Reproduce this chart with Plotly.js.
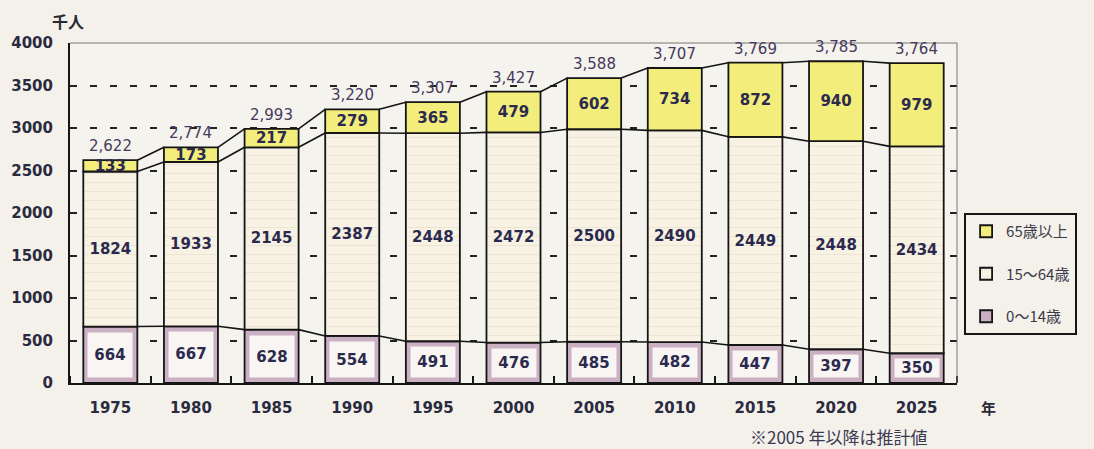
<!DOCTYPE html>
<html>
<head>
<meta charset="utf-8">
<script src="https://cdn.plot.ly/plotly-3.0.1.min.js"></script>
<style>html,body{margin:0;padding:0;background:#f3f1ea;}#chart{width:1094px;height:449px;}</style>
</head>
<body>
<div id="chart"></div>
<script>
// ---- data (thousand persons) ----
const years = [1975, 1980, 1985, 1990, 1995, 2000, 2005, 2010, 2015, 2020, 2025];
const age0to14 = [664, 667, 628, 554, 491, 476, 485, 482, 447, 397, 350];
const age15to64 = [1824, 1933, 2145, 2387, 2448, 2472, 2500, 2490, 2449, 2448, 2434];
const age65plus = [133, 173, 217, 279, 365, 479, 602, 734, 872, 940, 979];
const totalLabels = ['2,622', '2,774', '2,993', '3,220', '3,307', '3,427', '3,588', '3,707', '3,769', '3,785', '3,764'];
const seriesNames = ['65歳以上', '15～64歳', '0～14歳'];

// ---- derived stacking ----
const lvl1 = age0to14.slice();
const lvl2 = age0to14.map((v, i) => v + age15to64[i]);
const lvl3 = lvl2.map((v, i) => v + age65plus[i]);

const BW = 3.35; // bar width in x units (5-year spacing)
const numFont = {family: 'DejaVu Sans', size: 15, color: '#2b2a4e', weight: 'bold'};

const traces = [];
traces.push({
  type: 'bar', name: seriesNames[2], x: years, y: age0to14, base: years.map(() => 0),
  width: BW, legendgroup: 'c', legendrank: 3,
  marker: {color: '#cbb0c4', line: {color: '#151515', width: 1.8}},
  hoverinfo: 'skip'
});
traces.push({
  type: 'bar', name: seriesNames[1], x: years, y: age15to64, base: lvl1,
  width: BW, legendgroup: 'b', legendrank: 2,
  marker: {color: '#f7f2e4', line: {color: '#151515', width: 1.8},
    pattern: {shape: '-', fgcolor: '#ebe3d2', bgcolor: '#f7f2e4', size: 9, solidity: 0.1}},
  text: age15to64.map(String), textposition: 'inside', insidetextanchor: 'middle',
  constraintext: 'none', textfont: numFont, hoverinfo: 'skip'
});
traces.push({
  type: 'bar', name: seriesNames[0], x: years, y: age65plus, base: lvl2,
  width: BW, legendgroup: 'a', legendrank: 1,
  marker: {color: '#f3ee7b', line: {color: '#151515', width: 1.8}},
  text: age65plus.map(String), textposition: 'inside', insidetextanchor: 'middle',
  constraintext: 'none', textfont: numFont, hoverinfo: 'skip'
});

// series connector lines between adjacent bars
[lvl1, lvl2, lvl3].forEach(lv => {
  const xs = [], ys = [];
  for (let i = 0; i < years.length - 1; i++) {
    xs.push(years[i] + BW / 2, years[i + 1] - BW / 2, null);
    ys.push(lv[i], lv[i + 1], null);
  }
  traces.push({type: 'scatter', mode: 'lines', x: xs, y: ys, showlegend: false,
    line: {color: '#151515', width: 1.6}, hoverinfo: 'skip'});
});

// 0-14 labels in light boxes
const pxPerUnit = 340 / 4000;
const annotations = years.map((yr, i) => ({
  x: yr, y: age0to14[i] / 2, xref: 'x', yref: 'y', showarrow: false,
  text: String(age0to14[i]), font: numFont,
  bgcolor: '#f8f5f3', width: 42,
  height: Math.max(age0to14[i] * pxPerUnit - 14, 16)
}));
// total labels above bars
years.forEach((yr, i) => annotations.push({
  x: yr, y: lvl3[i], xref: 'x', yref: 'y', showarrow: false,
  yanchor: 'bottom', yshift: 3, text: totalLabels[i],
  font: {family: 'DejaVu Sans', size: 15, color: '#463a5c'}
}));
annotations.push({xref: 'paper', yref: 'paper', x: -0.002, y: 1.065, xanchor: 'center', yanchor: 'middle',
  text: '<b>千人</b>', showarrow: false, font: {family: 'Noto Sans CJK JP', size: 16, color: '#2a2a35'}});
annotations.push({xref: 'paper', yref: 'paper', x: 1.035, y: -0.0735, xanchor: 'center', yanchor: 'middle',
  text: '<b>年</b>', showarrow: false, font: {family: 'Noto Sans CJK JP', size: 15, color: '#2a2a35'}});
annotations.push({xref: 'paper', yref: 'paper', x: 0.764, y: -0.158, xanchor: 'left', yanchor: 'middle',
  text: '※2005 年以降は推計値', showarrow: false, font: {family: 'Noto Sans CJK JP', size: 17, color: '#3a3a52'}});

const layout = {
  width: 1094, height: 449,
  margin: {l: 70, r: 137, t: 43, b: 66},
  paper_bgcolor: '#f3f1ea', plot_bgcolor: '#f5f3ee',
  barmode: 'overlay', bargap: 0,
  showlegend: true,
  legend: {x: 1.008, xanchor: 'left', y: 0.5, yanchor: 'top',
    bordercolor: '#151515', borderwidth: 2, bgcolor: '#f3f1ea',
    traceorder: 'grouped', tracegroupgap: 20,
    font: {family: 'Noto Sans CJK JP', size: 15, color: '#3a3a48'}},
  xaxis: {range: [1972.5, 2027.5], tickmode: 'linear', tick0: 1975, dtick: 5, tickformat: 'd',
    showgrid: false, zeroline: false, showline: true, linecolor: '#151515', linewidth: 2,
    ticks: '', ticklabelstandoff: 10,
    tickfont: {family: 'DejaVu Sans', size: 15, color: '#2a2a40', weight: 'bold'},
    minor: {tickmode: 'linear', tick0: 1977.5, dtick: 5, ticks: 'inside', ticklen: 7, tickwidth: 2, tickcolor: '#151515', showgrid: false}},
  yaxis: {range: [0, 4000], tickmode: 'linear', tick0: 0, dtick: 500,
    showgrid: true, gridcolor: '#222', gridwidth: 2, griddash: '7px,13px',
    zeroline: false, showline: true, linecolor: '#151515', linewidth: 2,
    ticks: '', ticklabelstandoff: 12,
    tickfont: {family: 'DejaVu Sans', size: 15, color: '#2a2a40', weight: 'bold'}},
  shapes: [
    {type: 'line', xref: 'paper', yref: 'paper', x0: 0, x1: 1, y0: 1, y1: 1, line: {color: '#f5f3ee', width: 3}},
    {type: 'line', xref: 'paper', yref: 'paper', x0: 0, x1: 1, y0: 1, y1: 1, line: {color: '#777', width: 1}},
    {type: 'line', xref: 'paper', yref: 'paper', x0: 1, x1: 1, y0: 0, y1: 1, line: {color: '#777', width: 1}}
  ],
  annotations: annotations
};

Plotly.newPlot('chart', traces, layout, {displayModeBar: false, staticPlot: true});
</script>
</body>
</html>
